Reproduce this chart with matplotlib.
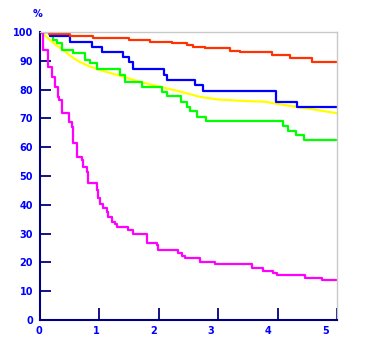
import matplotlib
matplotlib.use("Agg")
import matplotlib.pyplot as plt

# survival curves (years, percent)
red_t = [0, 0.15, 0.5, 0.9, 1.5, 1.85, 2.22, 2.47, 2.58, 2.78, 3.2, 3.37, 3.9, 4.21, 4.58, 5.0]
red_s = [100, 99.3, 98.5, 97.8, 97.2, 96.6, 96.1, 95.5, 94.9, 94.3, 93.5, 93.0, 92.0, 90.9, 89.7, 89.7]

blue_t = [0, 0.17, 0.5, 0.88, 1.04, 1.40, 1.50, 1.57, 2.09, 2.14, 2.61, 2.74, 3.97, 4.33, 5.0]
blue_s = [100, 98.6, 96.6, 94.9, 92.9, 91.2, 89.7, 87.0, 85.1, 83.3, 81.6, 79.6, 75.8, 73.8, 73.8]

green_t = [0, 0.17, 0.22, 0.29, 0.37, 0.56, 0.76, 0.84, 0.96, 1.35, 1.43, 1.72, 2.05, 2.14,
           2.37, 2.47, 2.53, 2.64, 2.79, 4.09, 4.18, 4.31, 4.44, 5.0]
green_s = [100, 98.6, 97.2, 96.2, 93.75, 92.6, 90.3, 89.1, 87.2, 85.1, 82.7, 81.0, 79.2, 77.8,
           75.6, 74.1, 72.6, 70.6, 69.1, 67.5, 65.7, 64.2, 62.5, 62.5]

yellow_t = [0, 0.07, 0.17, 0.27, 0.39, 0.47, 0.56, 0.67, 0.84, 1.01, 1.21, 1.40, 1.68, 2.02,
            2.36, 2.69, 2.98, 3.37, 3.79, 4.01, 4.29, 4.58, 5.0]
yellow_s = [100, 99.0, 97.2, 95.5, 93.75, 92.4, 91.0, 89.6, 88.0, 86.8, 85.6, 84.5, 82.7, 81.0,
            79.3, 77.5, 76.6, 76.1, 75.8, 75.0, 74.1, 73.2, 71.8]

magenta_t = [0, 0.017, 0.05, 0.135, 0.20, 0.25, 0.30, 0.32, 0.37, 0.49, 0.54, 0.56, 0.62, 0.71,
             0.72, 0.79, 0.81, 0.96, 0.98, 1.01, 1.06, 1.13, 1.14, 1.21, 1.26, 1.30, 1.48, 1.57,
             1.80, 1.97, 1.99, 2.32, 2.39, 2.44, 2.69, 2.95, 3.57, 3.75, 3.92, 3.99, 4.46, 4.75, 5.0]
magenta_s = [100, 99.7, 93.75, 87.8, 84.4, 80.9, 77.4, 76.4, 71.8, 68.9, 67.1, 61.4, 56.7, 55.6,
             53.2, 51.5, 47.5, 45.1, 42.3, 40.3, 38.9, 37.5, 35.9, 34.1, 33.3, 32.2, 31.25, 29.75,
             26.8, 26.0, 24.3, 23.4, 22.3, 21.6, 20.25, 19.3, 18.2, 17.1, 16.2, 15.7, 14.7, 13.9, 13.9]

x_ticks = [1, 2, 3, 4, 5]
x_labels = ["0", "1", "2", "3", "4", "5"]
y_ticks = [0, 10, 20, 30, 40, 50, 60, 70, 80, 90, 100]

navy = "#000080"
label_blue = "#0000FF"

fig = plt.figure(figsize=(3.65, 3.58), dpi=100)
ax = fig.add_axes([40 / 365, 1 - 320 / 358, 297 / 365, 288 / 358])

ax.plot(yellow_t, yellow_s, color="#FFFF00", lw=1.6)
ax.step(green_t, green_s, where="post", color="#00FF00", lw=1.6)
ax.step(magenta_t, magenta_s, where="post", color="#FF00FF", lw=1.6)
ax.step(blue_t, blue_s, where="post", color="#0000FF", lw=1.6)
ax.step(red_t, red_s, where="post", color="#FF3300", lw=1.6)

ax.set_xlim(0, 5.0)
ax.set_ylim(0, 100)

for side in ["left", "bottom"]:
    ax.spines[side].set_color(navy)
    ax.spines[side].set_linewidth(1.5)
for side in ["top", "right"]:
    ax.spines[side].set_color("#C8C8C8")
    ax.spines[side].set_linewidth(1.0)

ax.set_xticks(x_ticks)
ax.set_xticklabels([])
ax.tick_params(axis="x", direction="in", length=8.5, width=1.3, color=navy)
# x labels sit a little left of their ticks in the original
for i, lab in enumerate(x_labels):
    ax.text(i * 0.965 - 0.02, -0.022, lab, transform=ax.get_xaxis_transform(),
            ha="center", va="top", fontsize=7, fontweight="bold", color=label_blue)

ax.set_yticks(y_ticks)
ax.set_yticklabels([str(v) for v in y_ticks], fontsize=7, fontweight="bold", color=label_blue)
ax.tick_params(axis="y", direction="in", length=8, width=1.3, color=navy, pad=5)
# no tick marks at the ends of the y axis
for tk in (ax.yaxis.get_major_ticks()[0], ax.yaxis.get_major_ticks()[-1]):
    tk.tick1line.set_visible(False)

ax.text(-0.01, 1.045, "%", transform=ax.transAxes, ha="center", va="bottom",
        fontsize=7, fontweight="bold", color=label_blue)

fig.savefig("out.png", dpi=100)
